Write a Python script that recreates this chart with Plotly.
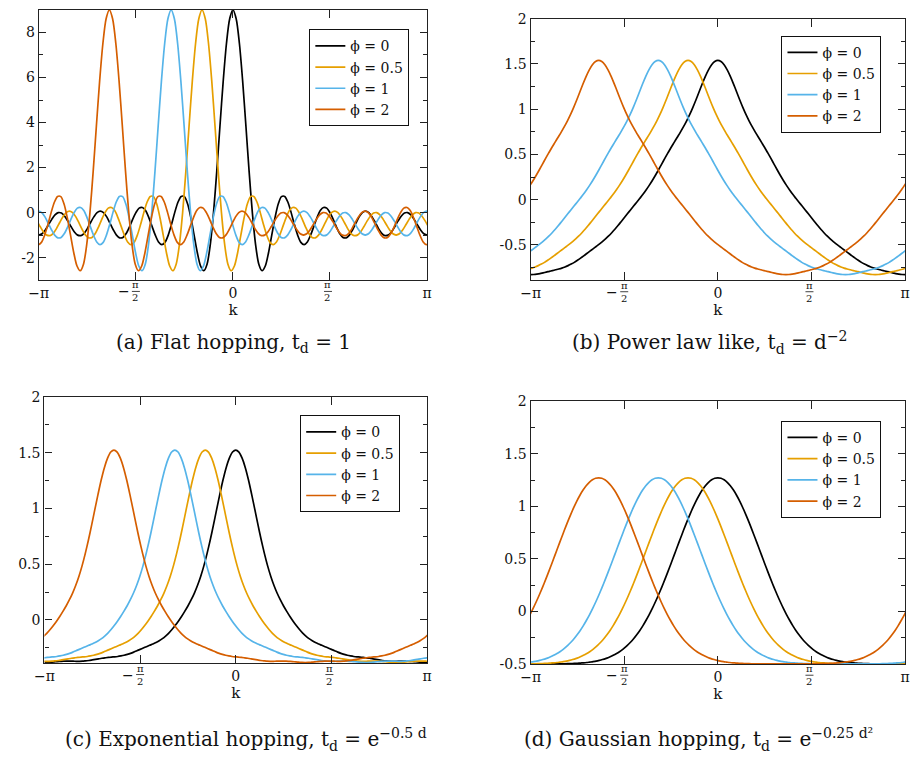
import numpy as np
import plotly.graph_objects as go

W, H = 915, 764

# shift parameters of the four curves (legend values)
PHI = [0, 0.5, 1, 2]
NAMES = ["ϕ = 0", "ϕ = 0.5", "ϕ = 1", "ϕ = 2"]
COLORS = ["#000000", "#E69F00", "#56B4E9", "#D55E00"]

# sampling grid of k over one Brillouin zone (121 points, step pi/60)
K = np.linspace(-np.pi, np.pi, 121)

# phi = 0 curve of each panel at the grid K
FLAT = [
    -1.00, -0.94, -0.77, -0.54, -0.30, -0.10, 0.00, -0.02, -0.16, -0.38, -0.63, -0.86, -1.00, -1.02, -0.92,
    -0.71, -0.44, -0.19, 0.00, 0.07, 0.00, -0.19, -0.47, -0.76, -1.00, -1.12, -1.10, -0.93, -0.64, -0.30,
    0.00, 0.20, 0.23, 0.09, -0.22, -0.61, -1.00, -1.30, -1.42, -1.32, -1.00, -0.53, 0.00, 0.46, 0.72,
    0.71, 0.38, -0.23, -1.00, -1.78, -2.37, -2.58, -2.29, -1.42, 0.00, 1.83, 3.87, 5.85, 7.51, 8.61,
    9.00,
    8.61, 7.51, 5.85, 3.87, 1.83, 0.00, -1.42, -2.29, -2.58, -2.37, -1.78, -1.00, -0.23, 0.38, 0.71,
    0.72, 0.46, 0.00, -0.53, -1.00, -1.32, -1.42, -1.30, -1.00, -0.61, -0.22, 0.09, 0.23, 0.20, 0.00,
    -0.30, -0.64, -0.93, -1.10, -1.12, -1.00, -0.76, -0.47, -0.19, 0.00, 0.07, 0.00, -0.19, -0.44, -0.71,
    -0.92, -1.02, -1.00, -0.86, -0.63, -0.38, -0.16, -0.02, 0.00, -0.10, -0.30, -0.54, -0.77, -0.94, -1.00,
]
POWER = [
    -0.828, -0.827, -0.823, -0.817, -0.809, -0.801, -0.792, -0.784, -0.775, -0.766, -0.756, -0.744, -0.729,
    -0.712, -0.693, -0.670, -0.646, -0.621, -0.595, -0.569, -0.543, -0.517, -0.491, -0.463, -0.433, -0.401,
    -0.365, -0.327, -0.286, -0.243, -0.200, -0.156, -0.113, -0.070, -0.028, 0.015, 0.059, 0.107, 0.158,
    0.212, 0.270, 0.331, 0.394, 0.456, 0.517, 0.577, 0.634, 0.690, 0.747, 0.807, 0.872, 0.943, 1.021,
    1.105, 1.193, 1.281, 1.364, 1.436, 1.492, 1.528,
    1.540,
    1.528, 1.492, 1.436, 1.364, 1.281, 1.193, 1.105, 1.021, 0.943, 0.872, 0.807, 0.747, 0.690, 0.634,
    0.577, 0.517, 0.456, 0.394, 0.331, 0.270, 0.212, 0.158, 0.107, 0.059, 0.015, -0.028, -0.070, -0.113,
    -0.156, -0.200, -0.243, -0.286, -0.327, -0.365, -0.401, -0.433, -0.463, -0.491, -0.517, -0.543, -0.569,
    -0.595, -0.621, -0.646, -0.670, -0.693, -0.712, -0.729, -0.744, -0.756, -0.766, -0.775, -0.784, -0.792,
    -0.801, -0.809, -0.817, -0.823, -0.827, -0.828,
]
EXPO = [
    -0.382, -0.381, -0.379, -0.377, -0.374, -0.372, -0.370, -0.370, -0.370, -0.370, -0.371, -0.371, -0.370,
    -0.367, -0.364, -0.359, -0.354, -0.349, -0.344, -0.340, -0.336, -0.333, -0.331, -0.328, -0.323, -0.317,
    -0.309, -0.300, -0.289, -0.276, -0.264, -0.252, -0.240, -0.228, -0.216, -0.203, -0.187, -0.168, -0.145,
    -0.118, -0.086, -0.050, -0.011, 0.031, 0.077, 0.125, 0.179, 0.239, 0.309, 0.390, 0.485, 0.595, 0.717,
    0.850, 0.989, 1.126, 1.255, 1.366, 1.451, 1.506,
    1.524,
    1.506, 1.451, 1.366, 1.255, 1.126, 0.989, 0.850, 0.717, 0.595, 0.485, 0.390, 0.309, 0.239, 0.179,
    0.125, 0.077, 0.031, -0.011, -0.050, -0.086, -0.118, -0.145, -0.168, -0.187, -0.203, -0.216, -0.228,
    -0.240, -0.252, -0.264, -0.276, -0.289, -0.300, -0.309, -0.317, -0.323, -0.328, -0.331, -0.333, -0.336,
    -0.340, -0.344, -0.349, -0.354, -0.359, -0.364, -0.367, -0.370, -0.371, -0.371, -0.370, -0.370, -0.370,
    -0.370, -0.372, -0.374, -0.377, -0.379, -0.381, -0.382,
]
GAUSS = [
    -0.500, -0.500, -0.500, -0.500, -0.500, -0.500, -0.499, -0.499, -0.499, -0.499, -0.498, -0.498, -0.497,
    -0.496, -0.495, -0.493, -0.491, -0.489, -0.486, -0.482, -0.478, -0.473, -0.466, -0.458, -0.449, -0.438,
    -0.425, -0.410, -0.393, -0.373, -0.350, -0.323, -0.293, -0.260, -0.222, -0.181, -0.135, -0.084, -0.030,
    0.029, 0.092, 0.159, 0.229, 0.303, 0.379, 0.456, 0.536, 0.615, 0.694, 0.772, 0.847, 0.919, 0.987,
    1.050, 1.106, 1.155, 1.196, 1.229, 1.253, 1.268,
    1.272,
    1.268, 1.253, 1.229, 1.196, 1.155, 1.106, 1.050, 0.987, 0.919, 0.847, 0.772, 0.694, 0.615, 0.536,
    0.456, 0.379, 0.303, 0.229, 0.159, 0.092, 0.029, -0.030, -0.084, -0.135, -0.181, -0.222, -0.260,
    -0.293, -0.323, -0.350, -0.373, -0.393, -0.410, -0.425, -0.438, -0.449, -0.458, -0.466, -0.473, -0.478,
    -0.482, -0.486, -0.489, -0.491, -0.493, -0.495, -0.496, -0.497, -0.498, -0.498, -0.499, -0.499, -0.499,
    -0.499, -0.500, -0.500, -0.500, -0.500, -0.500, -0.500,
]
CURVES = [FLAT, POWER, EXPO, GAUSS]

CAPTIONS = [
    "(a) Flat hopping, t<sub>d</sub> = 1",
    "(b) Power law like, t<sub>d</sub> = d<sup>−2</sup>",
    "(c) Exponential hopping, t<sub>d</sub> = e<sup>−0.5 d</sup>",
    "(d) Gaussian hopping, t<sub>d</sub> = e<sup>−0.25 d²</sup>",
]
YTICKS = [
    [-2, 0, 2, 4, 6, 8],
    [-0.5, 0, 0.5, 1, 1.5, 2],
    [0, 0.5, 1, 1.5, 2],
    [-0.5, 0, 0.5, 1, 1.5, 2],
]
YTICKTEXT = [
    ["-2", "0", "2", "4", "6", "8"],
    ["-0.5", "0", "0.5", "1", "1.5", "2"],
    ["0", "0.5", "1", "1.5", "2"],
    ["-0.5", "0", "0.5", "1", "1.5", "2"],
]
YMINOR = [
    [-3, -1, 1, 3, 5, 7, 9],
    [-0.75, -0.25, 0.25, 0.75, 1.25, 1.75],
    [-0.25, 0.25, 0.75, 1.25, 1.75],
    [-0.25, 0.25, 0.75, 1.25, 1.75],
]
YRANGES = [[-3, 9], [-0.893, 2], [-0.389, 2], [-0.5, 2]]
XTICKS = [-np.pi, 0, np.pi]
XTICKTEXT = ["−π", "0", "π"]
XHALF = [-np.pi / 2, np.pi / 2]          # ticks labelled with stacked fractions

# layout in pixels
BOXES = [(29.3, 424, 2, 278), (529.3, 910, 11, 278.3), (35, 424, 397.3, 669.3), (529.3, 910, 401.7, 670)]
LEGPOS = [(406, 21.7), (886, 28.3), (396.7, 416), (886, 421.7)]
CAPPOS = [(227, 342), (712, 342), (240, 747), (700, 747)]

FONT = "DejaVu Serif"
INK = "#111111"


def fx(x):
    return x / W


def fy(y):
    return 1 - y / H


fig = go.Figure()
annotations = []
shapes = []
for p in range(4):
    n = "" if p == 0 else str(p + 1)
    x0, x1, y0, y1 = BOXES[p]
    vals = np.array(CURVES[p])
    for i, phi in enumerate(PHI):
        xs = np.concatenate([K - phi, K - phi + 2 * np.pi])
        ys = np.concatenate([vals, vals])
        fig.add_trace(go.Scatter(
            x=xs, y=ys, mode="lines", name=NAMES[i],
            line=dict(color=COLORS[i], width=1.7, shape="spline", smoothing=0.8),
            xaxis="x" + n, yaxis="y" + n, legend="legend" + n, showlegend=True, hoverinfo="skip"))
    axc = dict(showline=True, linecolor="#222222", linewidth=1.4, mirror="allticks", ticks="inside",
               showgrid=False, zeroline=False, tickcolor="#222222", tickwidth=1)
    fig.layout["xaxis" + n] = dict(
        axc, domain=[fx(x0), fx(x1)], range=[-np.pi, np.pi], anchor="y" + n,
        tickmode="array", tickvals=XTICKS, ticktext=XTICKTEXT, ticklen=8,
        minor=dict(ticks="inside", ticklen=8, tickmode="array", tickvals=XHALF, tickcolor="#222222"),
        tickfont=dict(family=FONT, size=14, color=INK),
        title=dict(text="k", font=dict(family=FONT, size=15, color=INK), standoff=4))
    fig.layout["yaxis" + n] = dict(
        axc, domain=[fy(y1), fy(y0)], range=YRANGES[p], anchor="x" + n,
        tickmode="array", tickvals=YTICKS[p], ticktext=YTICKTEXT[p], ticklen=7,
        minor=dict(ticks="inside", ticklen=4, tickmode="array", tickvals=YMINOR[p], tickcolor="#222222"),
        tickfont=dict(family=FONT, size=14, color=INK))
    lx, ly = LEGPOS[p]
    fig.layout["legend" + n] = dict(
        x=fx(lx), y=fy(ly), xanchor="right", yanchor="top", bordercolor=INK, borderwidth=1,
        bgcolor="white", font=dict(family=FONT, size=14, color=INK), tracegroupgap=0)
    # stacked-fraction tick labels at -pi/2 and pi/2
    for xv, dx in zip(XHALF, [0, -2]):
        xa = "x" + n
        annotations.append(dict(x=xv, y=fy(y1 + 11.5), xref=xa, yref="paper", text="π<br>2",
                                showarrow=False, xanchor="center", yanchor="middle", borderpad=0,
                                font=dict(family=FONT, size=10, color=INK), xshift=dx))
        shapes.append(dict(type="line", xref=xa, yref="paper", xsizemode="pixel", xanchor=xv,
                           x0=dx - 4, x1=dx + 4,
                           y0=fy(y1 + 11.5), y1=fy(y1 + 11.5), line=dict(color=INK, width=0.8)))
        if xv < 0:
            annotations.append(dict(x=xv, y=fy(y1 + 11.5), xref=xa, yref="paper", text="−", showarrow=False,
                                    xanchor="right", yanchor="middle", borderpad=0,
                                    font=dict(family=FONT, size=14, color=INK), xshift=dx - 5))
    cx, cy = CAPPOS[p]
    annotations.append(dict(x=fx(cx), y=fy(cy), xref="paper", yref="paper", text=CAPTIONS[p],
                            xanchor="center", yanchor="middle",
                            showarrow=False, font=dict(family=FONT, size=20, color=INK)))

fig.update_layout(width=W, height=H, margin=dict(l=0, r=0, t=0, b=0), plot_bgcolor="white",
                  paper_bgcolor="white", annotations=annotations, shapes=shapes)
fig.write_html("out.html")
